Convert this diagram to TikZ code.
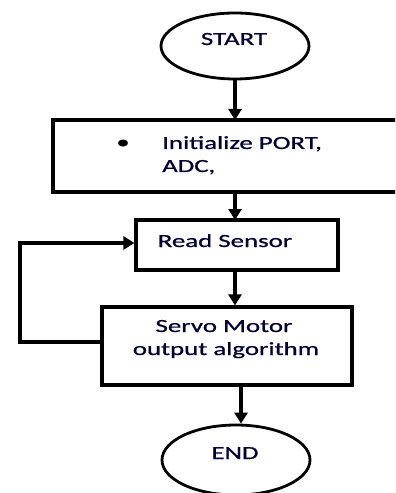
\documentclass[tikz,border=0pt]{standalone}
\usepackage{fontspec}
\setmainfont{Carlito}
\newfontfamily\labelfont[FakeBold=0.7]{Carlito}
\usetikzlibrary{arrows.meta,shapes.geometric}
% labels are set wide: a slightly stretched Carlito
\newcommand{\widetext}[1]{\scalebox{1.45}[1]{#1}}
\begin{document}
\begin{tikzpicture}[x=1bp,y=-1bp,
  flow/.style={line width=3.2bp,-{Triangle[width=13bp,length=11bp]}},
  term/.style={draw,line width=2.8bp,ellipse,minimum width=148bp,minimum height=66bp,inner sep=0pt},
  proc/.style={draw,line width=3.2bp,rectangle,inner sep=0pt},
  lbl/.style={inner sep=0pt,font=\labelfont\fontsize{18.6}{22}\selectfont,text=black!80!blue}]
\useasboundingbox (0,0) rectangle (395,493);
\begin{scope}
\clip (0,0) rectangle (395,493);
\node[term] (start) at (235,46) {};
\node[proc,minimum width=352bp,minimum height=72bp] (init) at (229,156) {};
\node[proc,minimum width=202bp,minimum height=50bp] (read) at (237,245) {};
\node[proc,minimum width=250bp,minimum height=78bp] (servo) at (227,346) {};
\node[term,minimum height=70bp] (end) at (236,460) {};
\end{scope}
% texts
\node[lbl,anchor=base] (starttxt) at (234,45) {\widetext{START}};
\node[lbl,anchor=center,text=black] (bul) at (123,144) {\widetext{\textbullet}};
\node[lbl,anchor=base west] (init1) at (162,149) {\widetext{Initialize PORT,}};
\node[lbl,anchor=base west] (init2) at (162,172) {\widetext{ADC,}};
\node[lbl,anchor=base] (readtxt) at (225,247) {\widetext{Read Sensor}};
\node[lbl,anchor=base] (servo1) at (224,332) {\widetext{Servo Motor}};
\node[lbl,anchor=base] (servo2) at (226,355) {\widetext{output algorithm}};
\node[lbl,anchor=base] (endtxt) at (235,459) {\widetext{END}};
% connectors
\coordinate (a1) at (235,120);
\draw[flow] (start.south) -- (a1);
\coordinate (a2) at (235,220);
\draw[flow] (init.south -| a2) -- (a2);
\draw[flow] (read.south -| a2) -- (servo.north -| a2);
\coordinate (e1) at (241,385);
\draw[flow] (e1) -- (end.north -| e1);
\coordinate (l1) at (20,342);
\coordinate (l2) at (20,243);
\draw[flow] (servo.west |- l1) -- (l1) -- (l2) -- (read.west |- l2);
\end{tikzpicture}
\end{document}
